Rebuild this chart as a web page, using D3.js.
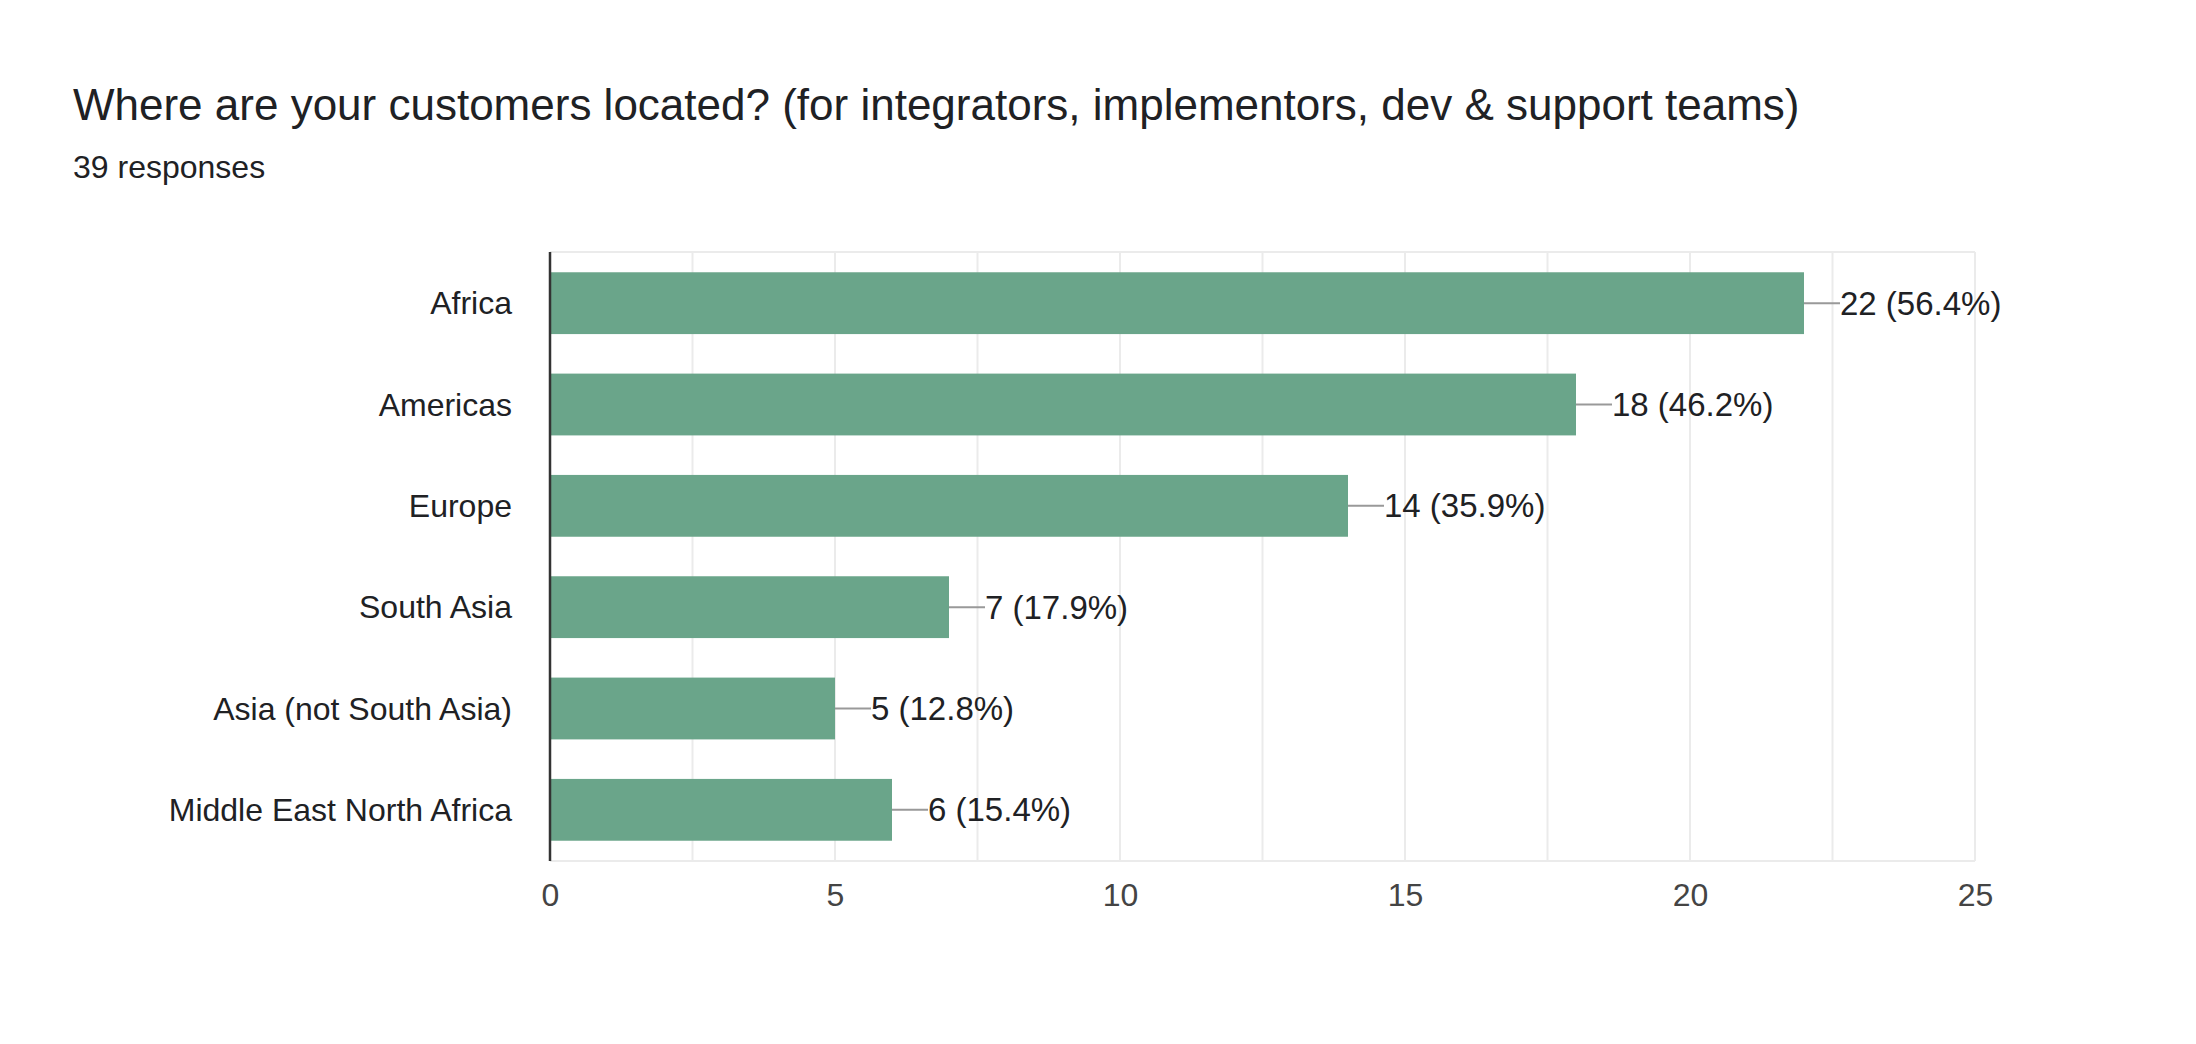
<!DOCTYPE html>
<html><head><meta charset="utf-8">
<script src="https://cdn.jsdelivr.net/npm/d3@7"></script>
<style>body{margin:0;background:#fff;font-family:"Liberation Sans",Arial,sans-serif}</style>
</head><body><div id="chart"></div>
<script>
var categories = ['Africa', 'Americas', 'Europe', 'South Asia', 'Asia (not South Asia)', 'Middle East North Africa'];
var counts = [22, 18, 14, 7, 5, 6];
var percents = ['56.4%', '46.2%', '35.9%', '17.9%', '12.8%', '15.4%'];
var ticks = [0, 5, 10, 15, 20, 25];

var W = 2196, H = 1044;
var margin = { top: 252, left: 550, right: 221, bottom: 183 };
var width = W - margin.left - margin.right,
    height = H - margin.top - margin.bottom;
var font = '"Liberation Sans", Arial, sans-serif';

var svg = d3.select('#chart').append('svg')
  .attr('width', W).attr('height', H)
  .attr('font-family', font);

svg.append('text').attr('x', 73).attr('y', 120)
  .attr('font-size', '44px').attr('fill', '#202124')
  .text('Where are your customers located? (for integrators, implementors, dev & support teams)');
svg.append('text').attr('x', 73).attr('y', 178)
  .attr('font-size', '32px').attr('fill', '#202124')
  .text('39 responses');

var g = svg.append('g').attr('transform', 'translate(' + margin.left + ',' + margin.top + ')');

var x = d3.scaleLinear().domain([0, 25]).range([0, width]);
var y = d3.scaleBand().domain(categories).range([0, height]).paddingInner(0.39).paddingOuter(0.2);

// grid
g.selectAll('.grid').data(d3.range(0, 26, 2.5)).enter().append('line')
  .attr('x1', d => x(d)).attr('x2', d => x(d))
  .attr('y1', 0).attr('y2', height)
  .attr('stroke', '#ebebeb').attr('stroke-width', 2);
g.append('line').attr('x1', 0).attr('x2', width).attr('y1', 0).attr('y2', 0)
  .attr('stroke', '#ebebeb').attr('stroke-width', 2);
g.append('line').attr('x1', 0).attr('x2', width).attr('y1', height).attr('y2', height)
  .attr('stroke', '#ebebeb').attr('stroke-width', 2);

g.selectAll('.bar').data(counts).enter().append('rect')
  .attr('x', 0).attr('y', (d, i) => y(categories[i]))
  .attr('width', d => x(d)).attr('height', y.bandwidth())
  .attr('fill', '#6aa58a');

// leader lines + labels
g.selectAll('.lead').data(counts).enter().append('line')
  .attr('x1', d => x(d)).attr('x2', d => x(d) + 36)
  .attr('y1', (d, i) => y(categories[i]) + y.bandwidth() / 2)
  .attr('y2', (d, i) => y(categories[i]) + y.bandwidth() / 2)
  .attr('stroke', '#999').attr('stroke-width', 2);
g.selectAll('.val').data(counts).enter().append('text')
  .attr('x', d => x(d) + 36)
  .attr('y', (d, i) => y(categories[i]) + y.bandwidth() / 2)
  .attr('dy', '0.35em').attr('font-size', '33px').attr('fill', '#202124')
  .text((d, i) => d + ' (' + percents[i] + ')');

// category labels
g.selectAll('.cat').data(categories).enter().append('text')
  .attr('x', -38).attr('y', d => y(d) + y.bandwidth() / 2)
  .attr('dy', '0.35em').attr('text-anchor', 'end')
  .attr('font-size', '32px').attr('fill', '#202124')
  .text(d => d);

// x axis
var xa = g.append('g').attr('transform', 'translate(0,' + height + ')')
  .call(d3.axisBottom(x).tickValues(ticks).tickSize(0).tickPadding(22));
xa.select('.domain').remove();
xa.selectAll('text').attr('font-size', '32px').attr('fill', '#444')
  .attr('font-family', font);

g.append('line').attr('x1', 0).attr('x2', 0).attr('y1', 0).attr('y2', height)
  .attr('stroke', '#333').attr('stroke-width', 2.5);
</script></body></html>
